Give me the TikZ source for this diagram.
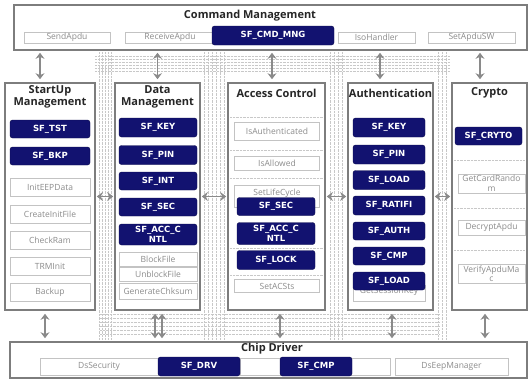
\documentclass[tikz,border=0pt]{standalone}
\usepackage{fontspec}
\setmainfont{Open Sans}
\newfontfamily\boxfont{DejaVu Sans}
\usetikzlibrary{arrows.meta}
\definecolor{navy}{RGB}{18,18,112}
\definecolor{frame}{RGB}{125,125,125}
\definecolor{itemline}{RGB}{195,195,195}
\definecolor{itemtext}{RGB}{140,140,140}
\definecolor{wirec}{RGB}{200,200,200}
\tikzset{
 panel/.style={draw=frame, line width=1.6pt, fill=white, inner sep=0},
 ptitle/.style={font=\fontsize{11}{12.5}\selectfont\bfseries, text=black!85, align=center, inner sep=0},
 sfbox/.style={fill=navy, draw=navy!70!black, rounded corners=2.5pt, text=white, font=\boxfont\fontsize{8.5}{9.5}\selectfont\bfseries, inner sep=0, align=center},
 item/.style={draw=itemline, fill=white, line width=0.6pt, text=itemtext, font=\fontsize{8.5}{9.5}\selectfont, inner sep=0, align=center},
 plainbox/.style={draw=itemline, fill=white, line width=0.6pt, inner sep=0},
 dbl/.style={draw=frame!90, line width=1.8pt, {Stealth[length=6pt,width=9pt]}-{Stealth[length=6pt,width=9pt]}},
 wire/.style={draw=wirec, line width=0.4pt, densely dotted},
}
\begin{document}
\begin{tikzpicture}[x=1pt,y=-1pt]
\useasboundingbox (0,0) rectangle (530,381);
\fill[white] (0,0) rectangle (530,381);
% background wiring texture
\foreach \yy in {56,59,62,65,68,71}{\draw[wire] (95,\yy) -- (450,\yy);}
\foreach \yy in {314,318,322,326,330,334}{\draw[wire] (100,\yy) -- (440,\yy);}
\foreach \xx in {99,102,105,108,111}{\draw[wire] (\xx,52) -- (\xx,340);}
\foreach \xx in {204,208,212,216,220,224}{\draw[wire] (\xx,52) -- (\xx,340);}
\foreach \xx in {330,334,338,342}{\draw[wire] (\xx,52) -- (\xx,340);}
\foreach \xx in {438,442,446}{\draw[wire] (\xx,52) -- (\xx,340);}
% command management
\node[panel, minimum width=513, minimum height=45] (cmd) at (270.5,27.5) {};
\node[ptitle] (cmdt) at (250,16) {Command Management};
\node[item, minimum width=86, minimum height=11] (sendapdu) at (67,37.5) {SendApdu};
\node[item, minimum width=90, minimum height=11] (recvapdu) at (170,37.5) {ReceiveApdu};
\node[item, minimum width=77, minimum height=11] (isoh) at (376.5,37.5) {IsoHandler};
\node[item, minimum width=87, minimum height=11] (setsw) at (471.5,37.5) {SetApduSW};
\node[sfbox, minimum width=122, minimum height=19] (cmdmng) at (273,35.5) {SF\_CMD\_MNG};
% columns
\node[panel, minimum width=90, minimum height=227] (startup) at (50,196.5) {};
\node[panel, minimum width=85, minimum height=227] (data) at (157.5,196.5) {};
\node[panel, minimum width=97, minimum height=227] (access) at (276.5,196.5) {};
\node[panel, minimum width=85, minimum height=227] (auth) at (390.5,196.5) {};
\node[panel, minimum width=75, minimum height=227] (crypto) at (489.5,196.5) {};
% inner wiring texture
\foreach \yy in {117,150,178,248,275}{\draw[wire] (230,\yy) -- (323,\yy);}
\foreach \yy in {160,208,250}{\draw[wire] (454,\yy) -- (525,\yy);}
\node[ptitle] (startupt) at (50,97) {StartUp\\Management};
\node[ptitle] (datat) at (157.5,97) {Data\\Management};
\node[ptitle] (accesst) at (276.5,93) {Access Control};
\node[ptitle] (autht) at (390.5,93) {Authentication};
\node[ptitle] (cryptot) at (489.5,93) {Crypto};
% startup items
\node[sfbox, minimum width=80, minimum height=18] (tst) at (50,129) {SF\_TST};
\node[sfbox, minimum width=80, minimum height=18] (bkp) at (50,156) {SF\_BKP};
\node[item, minimum width=80, minimum height=18] (initeep) at (50,187.5) {InitEEPData};
\node[item, minimum width=80, minimum height=18] (createinit) at (50,214) {CreateInitFile};
\node[item, minimum width=80, minimum height=18] (checkram) at (50,240) {CheckRam};
\node[item, minimum width=80, minimum height=18] (trminit) at (50,266) {TRMInit};
\node[item, minimum width=80, minimum height=18] (backup) at (50,292) {Backup};
% data items
\node[sfbox, minimum width=78, minimum height=19] (dkey) at (158,127.5) {SF\_KEY};
\node[sfbox, minimum width=78, minimum height=19] (dpin) at (158,155) {SF\_PIN};
\node[sfbox, minimum width=78, minimum height=18] (dint) at (158,181) {SF\_INT};
\node[sfbox, minimum width=78, minimum height=18] (dsec) at (158,207) {SF\_SEC};
\node[sfbox, minimum width=78, minimum height=21] (dacc) at (158,234.5) {SF\_ACC\_C\\NTL};
\node[item, minimum width=78, minimum height=14] (blockf) at (158,259) {BlockFile};
\node[item, minimum width=78, minimum height=14] (unblockf) at (158,274.5) {UnblockFile};
\node[item, minimum width=78, minimum height=16] (genchk) at (158,291.5) {GenerateChksum};
% access items
\node[item, minimum width=85, minimum height=18] (isauth) at (277,131) {IsAuthenticated};
\node[item, minimum width=85, minimum height=14] (isallow) at (277,163) {IsAllowed};
\node[item, minimum width=85, minimum height=22, text depth=8pt] (setlife) at (277,196) {SetLifeCycle};
\node[sfbox, minimum width=78, minimum height=18] (asec) at (276,206.5) {SF\_SEC};
\node[sfbox, minimum width=78, minimum height=22] (aacc) at (276,233.5) {SF\_ACC\_C\\NTL};
\node[sfbox, minimum width=78, minimum height=19] (alock) at (276,260) {SF\_LOCK};
\node[item, minimum width=85, minimum height=13] (setacs) at (277,286) {SetACSts};
% auth items
\node[item, minimum width=72, minimum height=16, text height=3pt] (getsess) at (389,293) {GetSessionKey};
\node[sfbox, minimum width=72, minimum height=19] (ukey) at (389,127.5) {SF\_KEY};
\node[sfbox, minimum width=72, minimum height=19] (upin) at (389,154.5) {SF\_PIN};
\node[sfbox, minimum width=72, minimum height=19] (uload) at (389,180) {SF\_LOAD};
\node[sfbox, minimum width=72, minimum height=19] (urat) at (389,205.5) {SF\_RATIFI};
\node[sfbox, minimum width=72, minimum height=18] (uauth) at (389,231) {SF\_AUTH};
\node[sfbox, minimum width=72, minimum height=18] (ucmp) at (389,256) {SF\_CMP};
\node[sfbox, minimum width=72, minimum height=18] (uload2) at (389,281) {SF\_LOAD};
% crypto items
\node[sfbox, minimum width=67, minimum height=18] (cry) at (488.5,136) {SF\_CRYTO};
\node[item, minimum width=67, minimum height=19] (getrand) at (491.5,183.5) {GetCardRando\\m};
\node[item, minimum width=67, minimum height=15] (decr) at (491.5,227.5) {DecryptApdu};
\node[item, minimum width=67, minimum height=19] (verif) at (491.5,274) {VerifyApduMa\\c};
% chip driver
\node[panel, minimum width=517, minimum height=36] (chip) at (268.5,360) {};
\node[ptitle] (chipt) at (272,349) {Chip Driver};
\node[item, minimum width=118, minimum height=17] (dssec) at (99,366.5) {DsSecurity};
\node[plainbox, minimum width=150, minimum height=17] (chipmid) at (315,366.5) {};
\node[item, minimum width=113, minimum height=17] (dseep) at (451.5,366.5) {DsEepManager};
\node[sfbox, minimum width=82, minimum height=19] (drv) at (199,366.5) {SF\_DRV};
\node[sfbox, minimum width=72, minimum height=19] (ccmp) at (316,366.5) {SF\_CMP};
% vertical arrows top
\draw[dbl, shorten <=2pt, shorten >=3pt] ([xshift=-10]startup.north |- cmd.south) -- ([xshift=-10]startup.north);
\draw[dbl, shorten <=2pt, shorten >=3pt] (data.north |- cmd.south) -- (data.north);
\draw[dbl, shorten <=2pt, shorten >=3pt] ([xshift=-4.5]access.north |- cmd.south) -- ([xshift=-4.5]access.north);
\draw[dbl, shorten <=2pt, shorten >=3pt] ([xshift=-10.5]auth.north |- cmd.south) -- ([xshift=-10.5]auth.north);
\draw[dbl, shorten <=2pt, shorten >=3pt] ([xshift=-9.5]crypto.north |- cmd.south) -- ([xshift=-9.5]crypto.north);
% vertical arrows bottom
\draw[dbl, shorten <=3pt, shorten >=3pt] ([xshift=-5]startup.south) -- ([xshift=-5]startup.south |- chip.north);
\draw[dbl, shorten <=3pt, shorten >=3pt] ([xshift=-2.5]data.south) -- ([xshift=-2.5]data.south |- chip.north);
\draw[dbl, shorten <=3pt, shorten >=3pt] ([xshift=4.5]data.south) -- ([xshift=4.5]data.south |- chip.north);
\draw[dbl, shorten <=3pt, shorten >=3pt] ([xshift=3.5]access.south) -- ([xshift=3.5]access.south |- chip.north);
\draw[dbl, shorten <=3pt, shorten >=3pt] ([xshift=1.5]auth.south) -- ([xshift=1.5]auth.south |- chip.north);
\draw[dbl, shorten <=3pt, shorten >=3pt] ([xshift=-4.5]crypto.south) -- ([xshift=-4.5]crypto.south |- chip.north);
% horizontal arrows
\draw[dbl, shorten <=1pt, shorten >=1pt] (startup.east) -- (data.west);
\draw[dbl, shorten <=1pt, shorten >=1pt] (data.east) -- (access.west);
\draw[dbl, shorten <=1pt, shorten >=1pt] (access.east) -- (auth.west);
\draw[dbl, shorten <=1pt, shorten >=1pt] (auth.east) -- (crypto.west);
\end{tikzpicture}
\end{document}
